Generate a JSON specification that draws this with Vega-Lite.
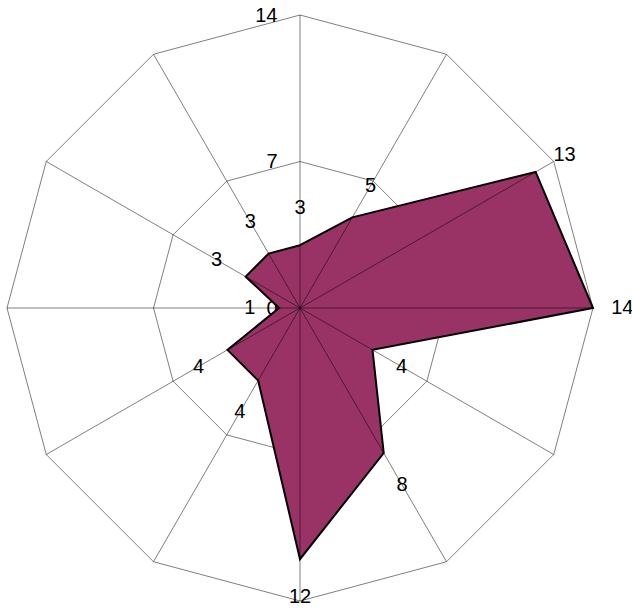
{
  "$schema": "https://vega.github.io/schema/vega-lite/v6.json",
  "width": 586,
  "height": 586,
  "autosize": {"type": "none"},
  "padding": {"left": 7, "top": 15, "right": 39, "bottom": 8},
  "background": "white",
  "config": {"view": {"stroke": null}, "font": "Liberation Sans"},
  "datasets": {
    "series": [
      {"k": 0, "v": 3},
      {"k": 1, "v": 5},
      {"k": 2, "v": 13},
      {"k": 3, "v": 14},
      {"k": 4, "v": 4},
      {"k": 5, "v": 8},
      {"k": 6, "v": 12},
      {"k": 7, "v": 4},
      {"k": 8, "v": 4},
      {"k": 9, "v": 1},
      {"k": 10, "v": 3},
      {"k": 11, "v": 3}
    ],
    "rings": [
      {"k": 0, "r": 7}, {"k": 1, "r": 7}, {"k": 2, "r": 7}, {"k": 3, "r": 7},
      {"k": 4, "r": 7}, {"k": 5, "r": 7}, {"k": 6, "r": 7}, {"k": 7, "r": 7},
      {"k": 8, "r": 7}, {"k": 9, "r": 7}, {"k": 10, "r": 7}, {"k": 11, "r": 7},
      {"k": 0, "r": 14}, {"k": 1, "r": 14}, {"k": 2, "r": 14}, {"k": 3, "r": 14},
      {"k": 4, "r": 14}, {"k": 5, "r": 14}, {"k": 6, "r": 14}, {"k": 7, "r": 14},
      {"k": 8, "r": 14}, {"k": 9, "r": 14}, {"k": 10, "r": 14}, {"k": 11, "r": 14}
    ]
  },
  "encoding": {
    "x": {"field": "x", "type": "quantitative", "scale": {"domain": [-14, 14], "nice": false, "zero": false}, "axis": null},
    "y": {"field": "y", "type": "quantitative", "scale": {"domain": [-14, 14], "nice": false, "zero": false},
      "axis": {"values": [0, 7, 14], "domain": false, "ticks": false, "tickSize": 0, "grid": false, "offset": -271, "labelPadding": 1, "labelFontSize": 20, "labelColor": "black", "labelFont": "Liberation Sans", "labelFlush": false, "labelOverlap": false, "title": null}}
  },
  "layer": [
    {
      "data": {"name": "rings"},
      "transform": [
        {"calculate": "datum.r * sin(datum.k * PI / 6)", "as": "x"},
        {"calculate": "datum.r * cos(datum.k * PI / 6)", "as": "y"}
      ],
      "mark": {"type": "line", "interpolate": "linear-closed", "stroke": "black", "strokeOpacity": 0.5, "strokeWidth": 1},
      "encoding": {"detail": {"field": "r"}, "order": {"field": "k", "type": "quantitative"}}
    },
    {
      "data": {"name": "series"},
      "transform": [
        {"calculate": "datum.v * sin(datum.k * PI / 6)", "as": "x"},
        {"calculate": "datum.v * cos(datum.k * PI / 6)", "as": "y"}
      ],
      "mark": {"type": "line", "interpolate": "linear-closed", "fill": "#993366", "stroke": "black", "strokeWidth": 2},
      "encoding": {"order": {"field": "k", "type": "quantitative"}}
    },
    {
      "data": {"name": "rings"},
      "transform": [
        {"filter": "datum.r == 14"},
        {"calculate": "datum.r * sin(datum.k * PI / 6)", "as": "x"},
        {"calculate": "datum.r * cos(datum.k * PI / 6)", "as": "y"}
      ],
      "mark": {"type": "rule", "stroke": "black", "strokeOpacity": 0.5, "strokeWidth": 1},
      "encoding": {"x2": {"datum": 0}, "y2": {"datum": 0}}
    },
    {
      "data": {"name": "series"},
      "transform": [
        {"calculate": "datum.v + 1.4 + 0.4 * abs(cos(datum.k * PI / 6))", "as": "lr"},
        {"calculate": "datum.lr * sin(datum.k * PI / 6)", "as": "x"},
        {"calculate": "datum.lr * cos(datum.k * PI / 6)", "as": "y"}
      ],
      "mark": {"type": "text", "fontSize": 20, "font": "Liberation Sans", "color": "black", "align": "center", "baseline": "middle"},
      "encoding": {"text": {"field": "v", "type": "quantitative"}}
    }
  ]
}
